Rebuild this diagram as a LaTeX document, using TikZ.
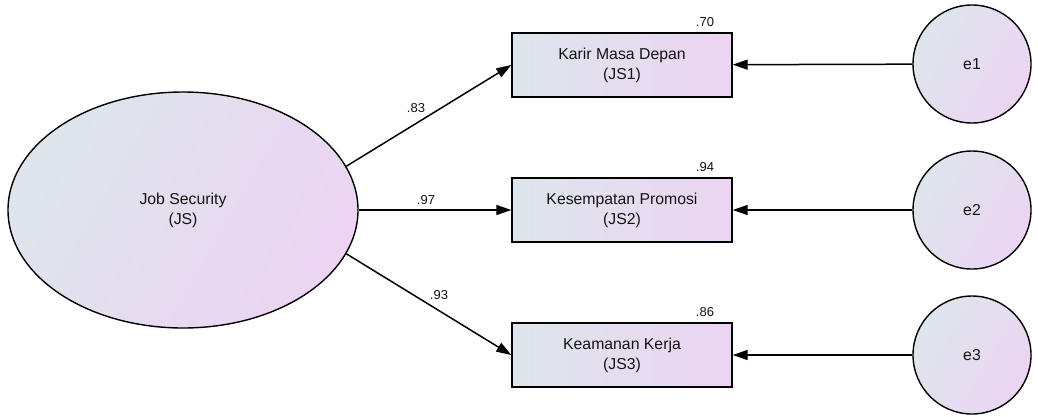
\documentclass[tikz,border=0pt]{standalone}
\usepackage{fontspec}
\setmainfont{Liberation Sans}
\usetikzlibrary{arrows.meta,shapes.geometric}
\definecolor{fillA}{RGB}{221,230,236}
\definecolor{fillB}{RGB}{236,212,242}
\definecolor{ink}{RGB}{20,20,20}
\tikzset{
  gradfill/.style={left color=fillA, right color=fillB, shading angle=60},
  label font/.style={font=\fontsize{15.8}{20}\selectfont, text=ink},
  latent/.style={ellipse, draw, line width=1.4pt, gradfill, minimum width=350pt, minimum height=236pt, align=center, label font},
  obs/.style={rectangle, draw, line width=1.4pt, left color=fillA, right color=fillB, minimum width=220pt, minimum height=64pt, align=center, label font},
  err/.style={circle, draw, line width=1.4pt, gradfill, minimum size=118pt, label font},
  causal/.style={line width=1.5pt, -{Triangle[length=15pt,width=10pt]}},
  coef/.style={font=\fontsize{13}{15}\selectfont, text=ink, inner sep=0pt}
}
\begin{document}
\begin{tikzpicture}[x=1pt,y=-1pt]
\useasboundingbox (0,0) rectangle (1038,416);
% latent construct
\node[latent] (js) at (183,210) {Job Security\\(JS)};
% indicators
\node[obs] (js1) at (622,65) {Karir Masa Depan\\(JS1)};
\node[obs] (js2) at (622,210) {Kesempatan Promosi\\(JS2)};
\node[obs] (js3) at (622,355) {Keamanan Kerja\\(JS3)};
% error terms
\node[err] (e1) at (972,64) {e1};
\node[err] (e2) at (972,210) {e2};
\node[err] (e3) at (972,355) {e3};
% squared multiple correlations
\node[coef] (r1) at (705,22) {.70};
\node[coef] (r2) at (705,167) {.94};
\node[coef] (r3) at (705,312) {.86};
% loadings
\draw[causal] (js.15) -- (js1.west);
\draw[causal] (js.east) -- (js2.west);
\draw[causal] (js.-15) -- (js3.west);
\node[coef] (l1) at (416,108) {.83};
\node[coef] (l2) at (426,200) {.97};
\node[coef] (l3) at (439,295) {.93};
% error paths
\draw[causal] (e1) -- (js1);
\draw[causal] (e2) -- (js2);
\draw[causal] (e3) -- (js3);
\end{tikzpicture}
\end{document}
